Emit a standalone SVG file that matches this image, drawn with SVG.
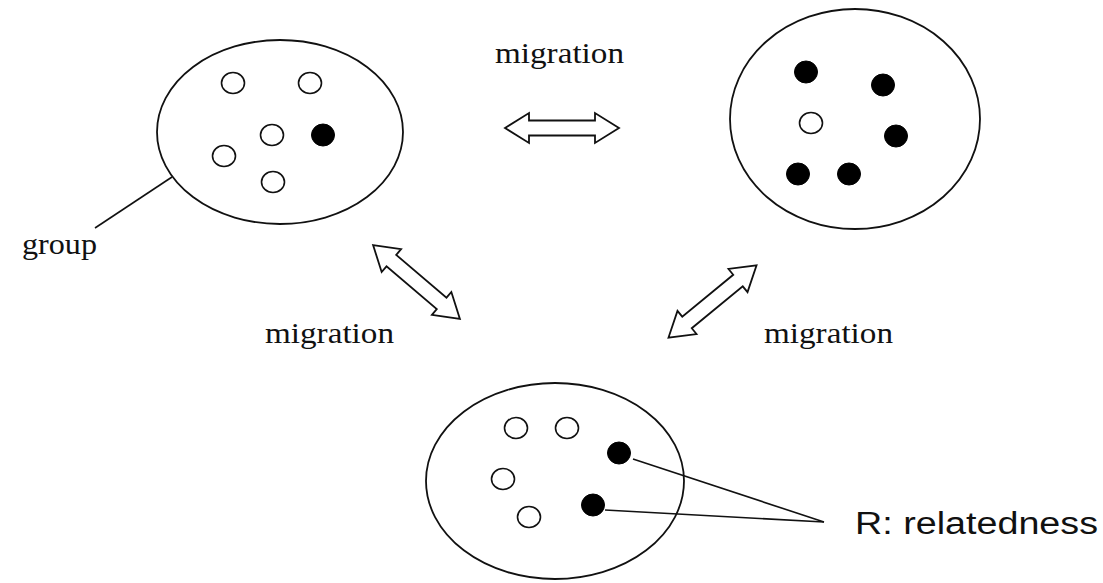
<svg xmlns="http://www.w3.org/2000/svg" xmlns:xlink="http://www.w3.org/1999/xlink" width="1103" height="583" viewBox="0 0 1103 583">
  <style>
    .group { fill: none; stroke: #111; stroke-width: 1.8; }
    .open { fill: #fff; stroke: #111; stroke-width: 1.6; }
    .filled { fill: #000; stroke: #000; stroke-width: 1; }
    .lead { stroke: #111; stroke-width: 1.6; fill: none; }
    .serif { font-family: "Liberation Serif", "Times New Roman", serif; font-size: 30px; fill: #111; }
    .sans { font-family: "Liberation Sans", Arial, sans-serif; font-size: 31px; fill: #111; }
    .arrow { fill: #fff; stroke: #111; stroke-width: 1.8; stroke-linejoin: miter; }
  </style>
  <defs>
    <!-- hollow double-headed block arrow, centred on the origin, pointing along x -->
    <path id="dblArrow" class="arrow" d="M -57 0 L -33 -15 L -33 -7.5 L 33 -7.5 L 33 -15 L 57 0 L 33 15 L 33 7.5 L -33 7.5 L -33 15 Z"/>
  </defs>
  <rect width="1103" height="583" fill="#fff"/>

  <!-- connectors: migration arrows and leader lines -->
  <g id="connectors">
    <use xlink:href="#dblArrow" transform="translate(562 128)"/>
    <use xlink:href="#dblArrow" transform="translate(416.5 282) rotate(40.4)"/>
    <use xlink:href="#dblArrow" transform="translate(712.5 301.5) rotate(-39.4)"/>
    <line class="lead" x1="95" y1="228" x2="172" y2="177"/>
    <line class="lead" x1="633" y1="459" x2="824" y2="522"/>
    <line class="lead" x1="605" y1="510" x2="824" y2="522"/>
  </g>

  <!-- group at top left -->
  <g id="group-a">
    <ellipse class="group" cx="280" cy="132" rx="123" ry="92"/>
    <ellipse class="open" cx="233" cy="83" rx="11.5" ry="10.5"/>
    <ellipse class="open" cx="310" cy="83" rx="11.5" ry="10.5"/>
    <ellipse class="open" cx="272" cy="135" rx="11.5" ry="10.5"/>
    <ellipse class="filled" cx="323" cy="135" rx="11.5" ry="11"/>
    <ellipse class="open" cx="224" cy="156" rx="11.5" ry="10.5"/>
    <ellipse class="open" cx="273" cy="182" rx="11.5" ry="10.5"/>
  </g>

  <!-- group at top right -->
  <g id="group-b">
    <ellipse class="group" cx="855" cy="119" rx="125" ry="110"/>
    <ellipse class="filled" cx="806" cy="72" rx="11.5" ry="11"/>
    <ellipse class="filled" cx="883" cy="85" rx="11.5" ry="11"/>
    <ellipse class="open" cx="811" cy="123" rx="11.5" ry="10.5"/>
    <ellipse class="filled" cx="896" cy="136" rx="11.5" ry="11"/>
    <ellipse class="filled" cx="798" cy="174" rx="11.5" ry="11"/>
    <ellipse class="filled" cx="849" cy="174" rx="11.5" ry="11"/>
  </g>

  <!-- group at bottom -->
  <g id="group-c">
    <ellipse class="group" cx="555" cy="481" rx="129" ry="98"/>
    <ellipse class="open" cx="516" cy="428" rx="11.5" ry="10.5"/>
    <ellipse class="open" cx="567" cy="428" rx="11.5" ry="10.5"/>
    <ellipse class="filled" cx="619" cy="453" rx="11.5" ry="11"/>
    <ellipse class="open" cx="503" cy="479" rx="11.5" ry="10.5"/>
    <ellipse class="filled" cx="593" cy="505" rx="11.5" ry="11"/>
    <ellipse class="open" cx="529" cy="517" rx="11.5" ry="10.5"/>
  </g>

  <!-- labels -->
  <g id="labels">
    <text class="serif" x="495" y="63" textLength="129" lengthAdjust="spacingAndGlyphs">migration</text>
    <text class="serif" x="265" y="343" textLength="129" lengthAdjust="spacingAndGlyphs">migration</text>
    <text class="serif" x="764" y="343" textLength="129" lengthAdjust="spacingAndGlyphs">migration</text>
    <text class="serif" x="22" y="254" textLength="75" lengthAdjust="spacingAndGlyphs">group</text>
    <text class="sans" x="855" y="534" textLength="243" lengthAdjust="spacingAndGlyphs">R: relatedness</text>
  </g>
</svg>
